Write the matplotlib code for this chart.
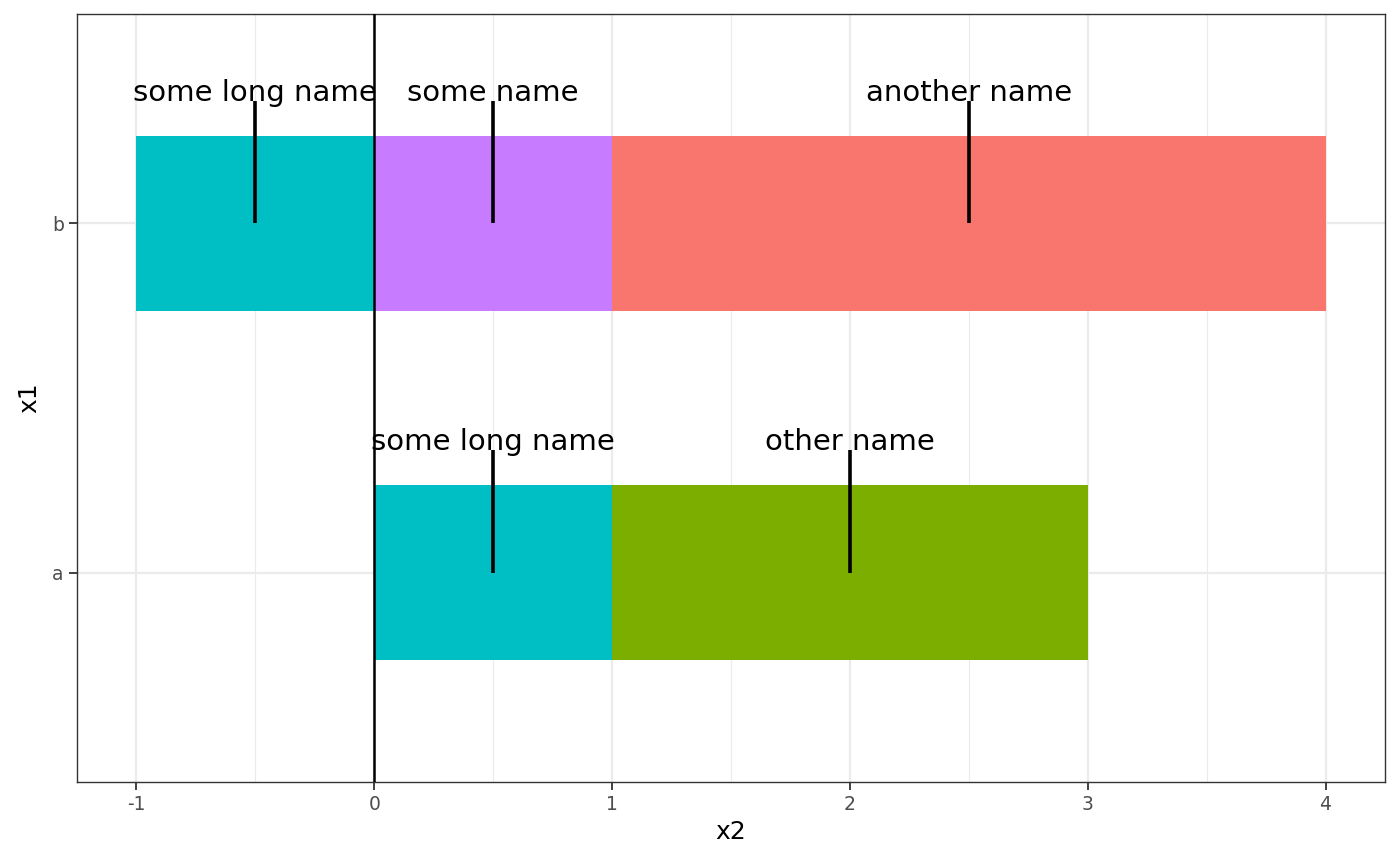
import matplotlib.pyplot as plt

# bars: group (y), start, end, label
groups = ["b", "b", "b", "a", "a"]
starts = [-1, 0, 1, 0, 1]
ends = [0, 1, 4, 1, 3]
names = ["some long name", "some name", "another name", "some long name", "other name"]

colors = {"another name": "#F8766D", "other name": "#7CAE00",
          "some long name": "#00BFC4", "some name": "#C77CFF"}
ypos = {"a": 1, "b": 2}

fig = plt.figure(figsize=(14, 8.66), dpi=100)
ax = fig.add_axes([77/1400, 1 - 782/866, (1385-77)/1400, (782-14)/866])

for g, s, e, n in zip(groups, starts, ends, names):
    y = ypos[g]
    ax.barh(y, e - s, left=s, height=0.5, color=colors[n], zorder=2)
for g, s, e, n in zip(groups, starts, ends, names):
    y = ypos[g]
    mid = (s + e) / 2
    ax.plot([mid, mid], [y, y + 0.35], color="black", lw=2.6, zorder=3,
            solid_capstyle="butt")
    ax.text(mid, y + 0.352, n, ha="center", va="baseline", fontsize=21, zorder=4)

ax.axvline(0, color="black", lw=1.8, zorder=3)

ax.set_xlim(-1.25, 4.25)
ax.set_ylim(0.4, 2.6)
ax.set_xticks([-1, 0, 1, 2, 3, 4])
ax.set_xticklabels(["-1", "0", "1", "2", "3", "4"])
ax.set_xticks([-0.5, 0.5, 1.5, 2.5, 3.5], minor=True)
ax.set_yticks([1, 2])
ax.set_yticklabels(["a", "b"])

ax.grid(True, which="major", color="#EBEBEB", lw=1.6, zorder=0)
ax.grid(True, which="minor", axis="x", color="#EBEBEB", lw=0.8, zorder=0)
ax.set_axisbelow(True)
ax.tick_params(axis="both", which="major", length=5.5, width=1.3, color="#333333",
               labelcolor="#4D4D4D", labelsize=13.5, pad=4)
ax.tick_params(which="minor", length=0)
for sp in ax.spines.values():
    sp.set_color("#333333")
    sp.set_linewidth(1.0)

ax.set_xlabel("x2", fontsize=18, labelpad=4)
ax.set_ylabel("x1", fontsize=18, labelpad=8)

fig.savefig("out.png", dpi=100)
